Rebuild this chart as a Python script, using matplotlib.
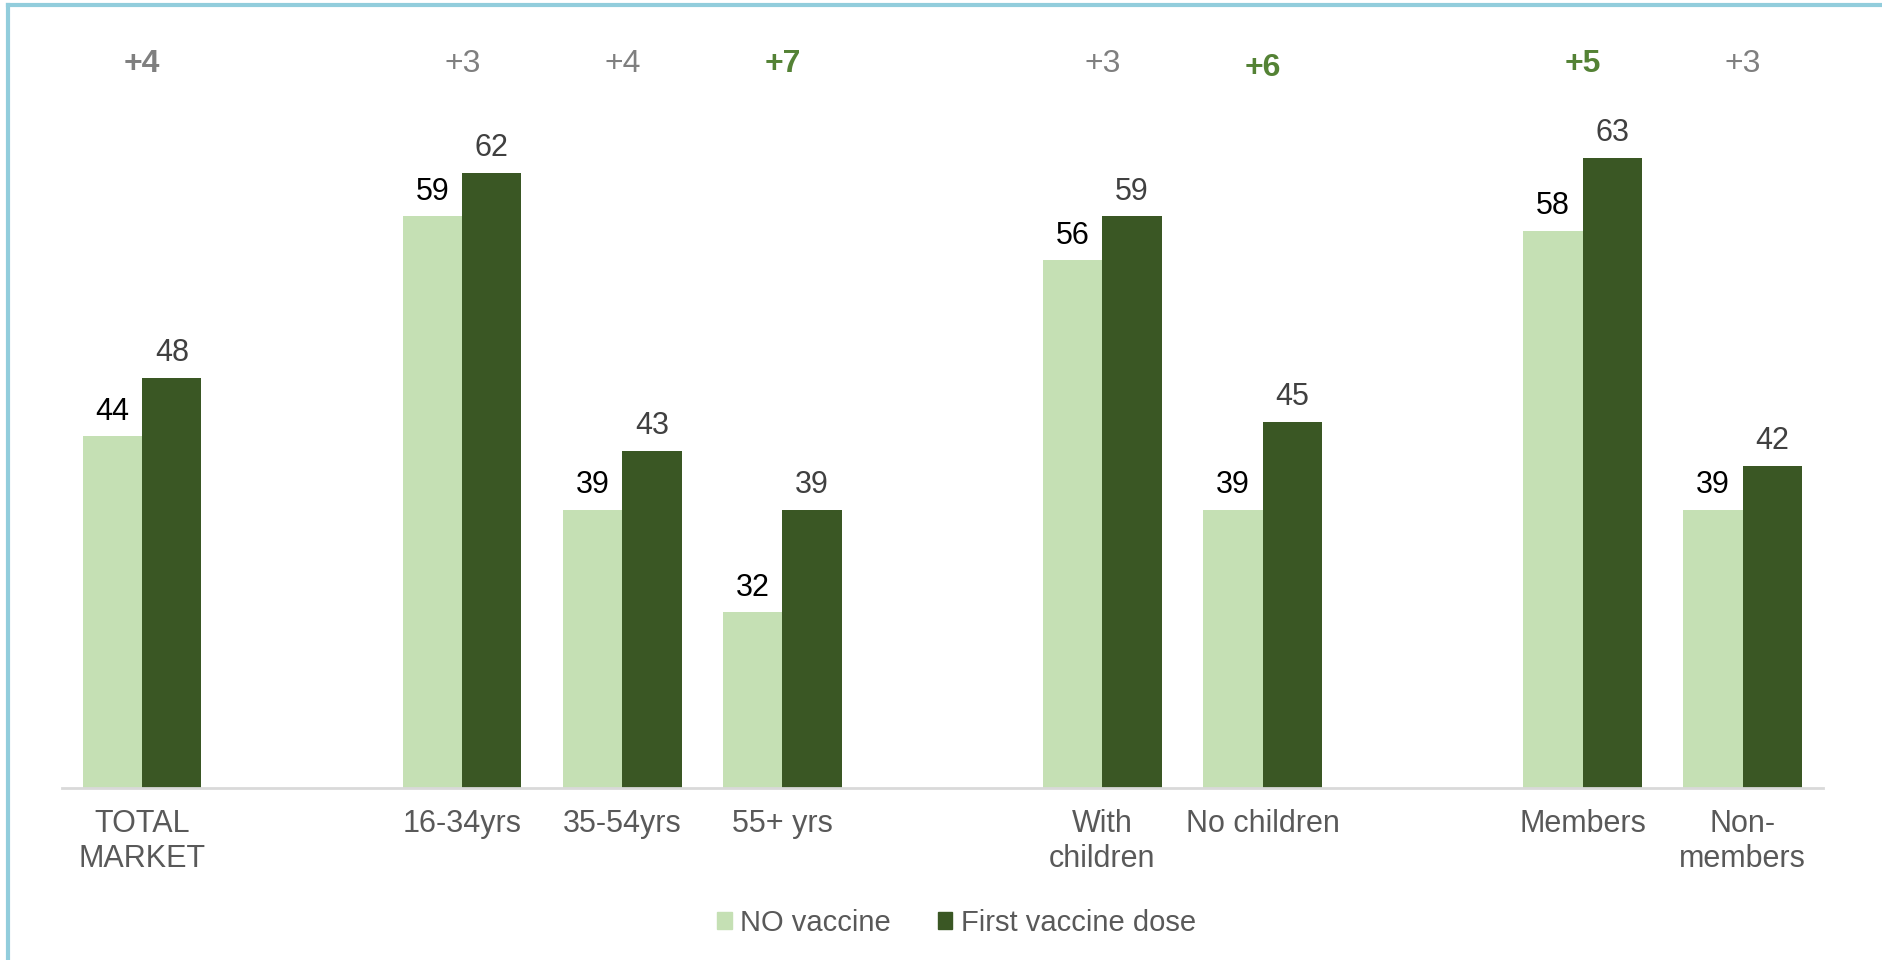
import matplotlib
matplotlib.use("Agg")
import matplotlib.pyplot as plt
from matplotlib.patches import Rectangle
from matplotlib.lines import Line2D
import numpy as np

plt.rcParams['font.family'] = ['Liberation Sans', 'DejaVu Sans']

# data (blank strings are spacer slots between groups)
categories = ["TOTAL\nMARKET", "", "16-34yrs", "35-54yrs", "55+ yrs", "",
              "With\nchildren", "No children", "", "Members", "Non-\nmembers"]
no_vaccine = [44, None, 59, 39, 32, None, 56, 39, None, 58, 39]
first_dose = [48, None, 62, 43, 39, None, 59, 45, None, 63, 42]
diff_labels = ["+4", "", "+3", "+4", "+7", "", "+3", "+6", "", "+5", "+3"]
diff_highlight = [False, None, False, False, True, None, False, True, None, True, False]

light = "#C5E0B4"
dark = "#3A5724"
grey_txt = "#595959"

fig = plt.figure(figsize=(18.83, 9.6), dpi=100)
ax = fig.add_axes([0.033, 0.179, 0.935, 0.794])

w = 0.37
x = np.arange(len(categories))
for i in range(len(categories)):
    if no_vaccine[i] is None:
        continue
    ax.bar(x[i] - w / 2, no_vaccine[i] - 20, w, bottom=20, color=light, edgecolor="none")
    ax.bar(x[i] + w / 2, first_dose[i] - 20, w, bottom=20, color=dark, edgecolor="none")
    ax.annotate(str(no_vaccine[i]), (x[i] - w / 2, no_vaccine[i]), xytext=(0, 7),
                textcoords="offset points", ha="center", va="bottom", fontsize=22, color="black")
    ax.annotate(str(first_dose[i]), (x[i] + w / 2, first_dose[i]), xytext=(0, 7),
                textcoords="offset points", ha="center", va="bottom", fontsize=22, color="#404040")
    # difference labels on top
    if diff_highlight[i]:
        col = "#548235"
        wt = "bold"
    else:
        col = "#7F7F7F"
        wt = "bold" if i == 0 else "normal"
    yy = 69.1 if diff_labels[i] == "+6" else 69.4
    ax.text(x[i], yy, diff_labels[i], ha="center", va="center", fontsize=23,
            color=col, fontweight=wt)

ax.set_xlim(-0.5, 10.5)
ax.set_ylim(20, 72)
ax.set_xticks(x)
ax.set_xticklabels(categories, fontsize=22, color=grey_txt)
ax.tick_params(axis="x", length=0, pad=15)
ax.set_yticks([])
for s in ["top", "right", "left"]:
    ax.spines[s].set_visible(False)
ax.spines["bottom"].set_color("#D9D9D9")
ax.spines["bottom"].set_linewidth(2)

handles = [Rectangle((0, 0), 1, 1, color=light), Rectangle((0, 0), 1, 1, color=dark)]
fig.legend(handles, ["NO vaccine", "First vaccine dose"], loc="center",
           bbox_to_anchor=(0.508, 0.039), ncol=2, frameon=False, fontsize=21,
           handlelength=0.5, handleheight=0.5, handletextpad=0.3, columnspacing=1.6,
           labelcolor=grey_txt)

# light blue frame on top and left edges
fig.add_artist(Line2D([0.0045, 1], [0.9945, 0.9945], color="#92CDDC", lw=3, transform=fig.transFigure))
fig.add_artist(Line2D([0.0045, 0.0045], [0, 0.9945], color="#92CDDC", lw=3, transform=fig.transFigure))

fig.savefig("out.png", dpi=100)
